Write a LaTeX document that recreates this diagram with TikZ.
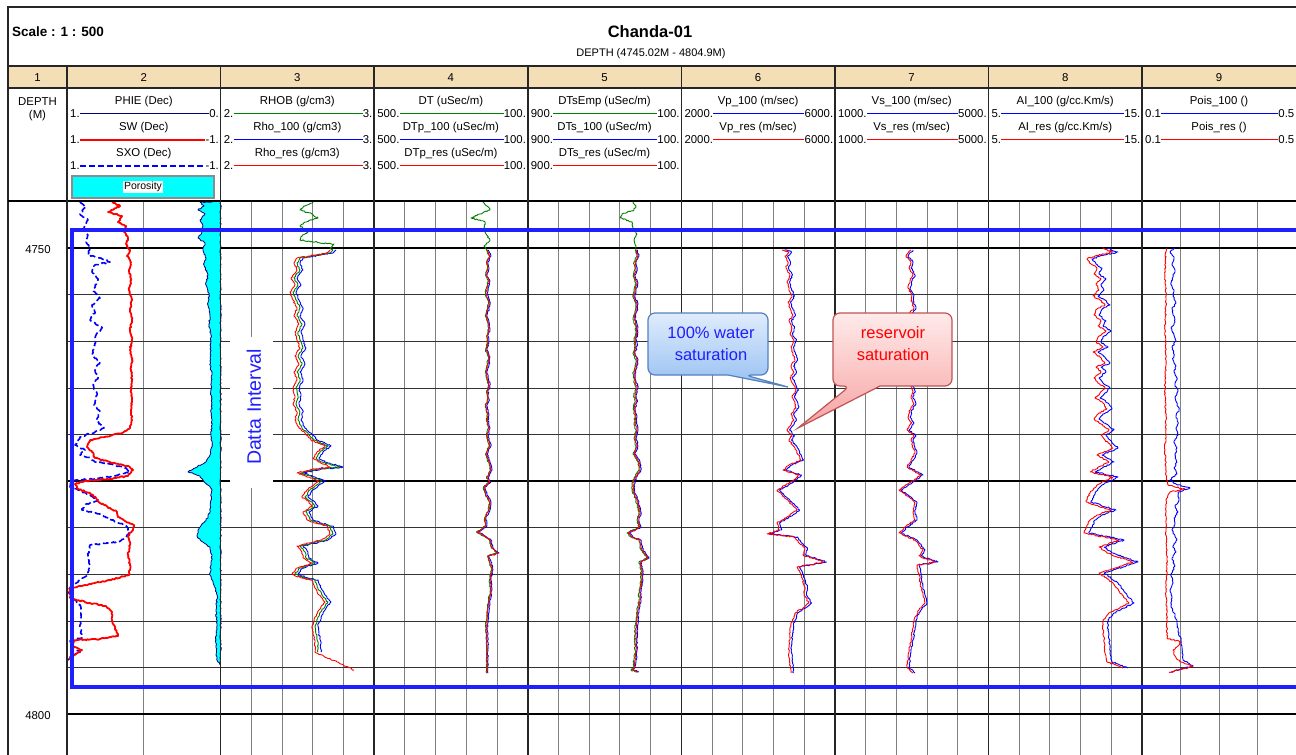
\documentclass[tikz,border=0pt]{standalone}
\usepackage{fontspec}
\setmainfont{Liberation Sans}
\usetikzlibrary{decorations.pathmorphing}
\definecolor{hdr}{RGB}{243,222,181}
\definecolor{navyc}{RGB}{0,0,128}
\definecolor{grn}{RGB}{0,128,0}
\definecolor{calbT}{RGB}{224,236,252}
\definecolor{calbB}{RGB}{150,192,242}
\definecolor{calbD}{RGB}{84,130,190}
\definecolor{calrT}{RGB}{255,234,234}
\definecolor{calrB}{RGB}{246,162,162}
\definecolor{calrD}{RGB}{192,84,84}
\definecolor{porcyan}{RGB}{0,255,255}
\definecolor{ltblue}{RGB}{30,30,255}

\newcommand\hdrcurve[8]{%
  \node[lbl] (#1n) at ({(#2+#3)/2},{#4-11}) {#5};
  \node[lbl,anchor=west] (#1l) at ({#2+3},{#4+0.5}) {#6};
  \node[lbl,anchor=east] (#1r) at ({#3-1.5},{#4+0.5}) {#7};
  \draw[#8] (#1l.east) -- (#1r.west);
}

% ---- curve data (x = pixel column, y = pixel row) ----
\def\swC{(112,202) -- (120,206) -- (108,212) -- (122,216) -- (118,222) -- (126,226) -- (124,232) -- (128,238) -- (126,244) -- (130,250) -- (127,256) -- (131,262) -- (129,270) -- (131,280) -- (129,290) -- (132,300) -- (130,310) -- (132,320) -- (130,330) -- (132,340) -- (130,350) -- (132,360) -- (131,370) -- (132,380) -- (131,390) -- (132,400) -- (131,410) -- (132,420) -- (130,428) -- (122,433) -- (105,437) -- (90,440) -- (87,447) -- (92,452) -- (95,458) -- (110,462) -- (128,466) -- (133,470) -- (128,476) -- (110,479) -- (85,481) -- (75,484) -- (78,489) -- (90,493) -- (96,498) -- (100,503) -- (110,508) -- (117,512) -- (118,517) -- (125,521) -- (134,525) -- (133,530) -- (128,536) -- (130,545) -- (128,555) -- (130,565) -- (129,575) -- (110,580) -- (85,585) -- (70,588) -- (70,598) -- (85,602) -- (105,606) -- (112,612) -- (112,620) -- (115,628) -- (118,636) -- (100,639) -- (75,640) -- (72,645) -- (82,650) -- (76,654) -- (70,657) -- (72,662)}
\def\sxoC{(80,202) -- (86,207) -- (80,214) -- (88,220) -- (84,228) -- (88,235) -- (86,242) -- (90,248) -- (88,255) -- (100,258) -- (110,262) -- (95,265) -- (92,272) -- (98,280) -- (93,290) -- (100,298) -- (92,305) -- (95,312) -- (90,320) -- (102,328) -- (96,335) -- (95,345) -- (92,355) -- (100,362) -- (95,370) -- (98,378) -- (93,385) -- (97,395) -- (94,405) -- (100,412) -- (96,420) -- (104,428) -- (95,432) -- (80,437) -- (75,445) -- (85,450) -- (80,455) -- (90,458) -- (95,462) -- (110,464) -- (125,468) -- (130,472) -- (115,476) -- (90,479) -- (72,481) -- (70,487) -- (78,490) -- (88,494) -- (98,500) -- (85,505) -- (82,510) -- (100,514) -- (112,520) -- (125,525) -- (130,532) -- (125,538) -- (118,542) -- (90,545) -- (88,555) -- (90,565) -- (88,575) -- (80,580) -- (70,588) -- (68,592) -- (75,600) -- (80,605) -- (81,615) -- (80,625) -- (82,638) -- (70,641) -- (72,648) -- (80,652) -- (72,656) -- (68,660)}
% track 3
\def\greenA{(313,202) -- (305,206) -- (300,210) -- (312,214) -- (318,218) -- (305,222) -- (300,226) -- (308,232) -- (302,236) -- (300,240) -- (315,242) -- (334,244) -- (330,248) -- (333,250)}
\def\curveA{(333,250) -- (330,253) -- (300,258) -- (297,263) -- (300,270) -- (294,278) -- (298,285) -- (293,292) -- (296,300) -- (300,308) -- (297,316) -- (302,324) -- (298,332) -- (300,340) -- (303,348) -- (298,356) -- (302,364) -- (297,372) -- (300,380) -- (296,388) -- (298,396) -- (296,404) -- (300,412) -- (298,420) -- (302,428) -- (308,433) -- (314,440) -- (328,446) -- (320,452) -- (316,458) -- (322,462) -- (340,467) -- (318,469) -- (300,473) -- (312,477) -- (322,481) -- (315,486) -- (310,490) -- (305,497) -- (312,502) -- (315,506) -- (306,512) -- (310,520) -- (318,523) -- (330,526) -- (333,534) -- (325,540) -- (300,546) -- (305,552) -- (306,558) -- (315,563) -- (300,568) -- (295,574) -- (305,578) -- (315,580) -- (318,588) -- (322,595) -- (328,602) -- (322,610) -- (318,617) -- (315,626) -- (316,634) -- (318,642) -- (318,652)}
\def\curveAr{(333,250) -- (330,253) -- (300,258) -- (297,263) -- (300,270) -- (294,278) -- (298,285) -- (293,292) -- (296,300) -- (300,308) -- (297,316) -- (302,324) -- (298,332) -- (300,340) -- (303,348) -- (298,356) -- (302,364) -- (297,372) -- (300,380) -- (296,388) -- (298,396) -- (296,404) -- (300,412) -- (298,420) -- (302,428) -- (308,433) -- (314,440) -- (328,446) -- (320,452) -- (316,458) -- (322,462) -- (333,467) -- (318,469) -- (300,473) -- (312,477) -- (322,481) -- (315,486) -- (310,490) -- (305,497) -- (312,502) -- (315,506) -- (306,512) -- (310,520) -- (318,523) -- (330,526) -- (333,534) -- (325,540) -- (300,546) -- (305,552) -- (306,558) -- (315,563) -- (300,568) -- (295,574) -- (305,578) -- (315,580) -- (318,588) -- (322,595) -- (328,602) -- (322,610) -- (318,617) -- (315,626) -- (316,634) -- (318,642) -- (318,652) -- (330,658) -- (340,662) -- (357,670)}
% track 4
\def\greenB{(483,202) -- (487,206) -- (490,210) -- (480,214) -- (471,218) -- (485,222) -- (484,228) -- (486,234) -- (490,240) -- (484,246) -- (487,250)}
\def\curveB{(487,250) -- (490,256) -- (487,262) -- (488,268) -- (486,275) -- (489,281) -- (487,288) -- (486,294) -- (489,302) -- (488,309) -- (486,315) -- (488,322) -- (489,329) -- (487,336) -- (488,343) -- (486,350) -- (489,357) -- (488,364) -- (486,371) -- (487,378) -- (489,385) -- (487,392) -- (488,399) -- (486,406) -- (488,414) -- (487,421) -- (489,428) -- (487,436) -- (490,446) -- (486,454) -- (489,462) -- (491,470) -- (487,478) -- (490,482) -- (484,487) -- (486,495) -- (490,502) -- (489,510) -- (485,518) -- (486,526) -- (477,532) -- (484,536) -- (490,540) -- (492,548) -- (498,553) -- (488,556) -- (490,562) -- (492,570) -- (490,580) -- (491,590) -- (489,600) -- (488,610) -- (487,620) -- (486,630) -- (487,640) -- (487,650) -- (487,660) -- (487,673)}
% track 5
\def\greenD{(633,202) -- (636,206) -- (634,210) -- (622,214) -- (620,218) -- (632,222) -- (633,228) -- (637,234) -- (634,240) -- (636,246) -- (636,250)}
\def\curveD{(636,250) -- (638,256) -- (635,262) -- (636,269) -- (634,276) -- (637,283) -- (635,290) -- (634,297) -- (637,304) -- (636,311) -- (634,318) -- (636,325) -- (637,332) -- (635,339) -- (636,346) -- (634,353) -- (637,360) -- (636,367) -- (634,374) -- (635,381) -- (637,388) -- (635,395) -- (636,402) -- (634,409) -- (636,416) -- (635,423) -- (637,430) -- (635,438) -- (637,446) -- (634,454) -- (639,462) -- (640,470) -- (634,480) -- (633,490) -- (637,500) -- (640,512) -- (638,520) -- (640,527) -- (628,533) -- (632,537) -- (640,540) -- (642,550) -- (648,558) -- (640,562) -- (642,570) -- (642,580) -- (640,590) -- (640,600) -- (638,610) -- (637,620) -- (636,630) -- (636,640) -- (636,650) -- (635,660) -- (634,668) -- (632,670) -- (638,672)}
% track 6
\def\curveE{(783,250) -- (790,252) -- (786,256) -- (789,262) -- (787,268) -- (791,275) -- (788,282) -- (790,289) -- (793,296) -- (789,302) -- (791,308) -- (794,315) -- (790,321) -- (793,328) -- (791,334) -- (795,340) -- (792,347) -- (794,354) -- (796,360) -- (792,366) -- (795,372) -- (791,378) -- (794,384) -- (797,390) -- (793,396) -- (796,402) -- (797,408) -- (792,414) -- (795,420) -- (791,426) -- (788,430) -- (793,436) -- (790,440) -- (796,448) -- (802,460) -- (790,465) -- (784,470) -- (800,475) -- (792,482) -- (778,490) -- (785,497) -- (798,510) -- (790,516) -- (778,523) -- (780,530) -- (768,534) -- (796,537) -- (800,543) -- (806,548) -- (804,555) -- (825,562) -- (798,567) -- (802,575) -- (806,587) -- (805,595) -- (810,603) -- (804,608) -- (796,613) -- (795,618) -- (792,623) -- (791,635) -- (790,645) -- (790,653) -- (791,663) -- (792,673)}
% track 7
\def\curveF{(912,250) -- (907,256) -- (912,262) -- (910,268) -- (914,275) -- (911,281) -- (909,288) -- (913,295) -- (912,301) -- (915,308) -- (910,314) -- (911,321) -- (914,327) -- (912,334) -- (909,340) -- (913,346) -- (915,353) -- (911,360) -- (910,366) -- (913,372) -- (908,379) -- (911,385) -- (914,391) -- (912,398) -- (915,404) -- (911,410) -- (909,417) -- (913,423) -- (908,430) -- (915,436) -- (912,440) -- (916,453) -- (908,467) -- (922,475) -- (912,482) -- (900,490) -- (910,497) -- (916,503) -- (914,512) -- (916,520) -- (906,527) -- (900,533) -- (916,540) -- (924,550) -- (920,556) -- (937,562) -- (918,565) -- (920,575) -- (922,587) -- (924,595) -- (926,603) -- (920,610) -- (916,617) -- (914,628) -- (912,640) -- (910,652) -- (908,667) -- (914,673)}
% track 8
\def\curveG{(1105,248) -- (1116,252) -- (1098,256) -- (1090,259) -- (1094,264) -- (1100,268) -- (1097,274) -- (1104,279) -- (1099,284) -- (1102,290) -- (1096,296) -- (1103,300) -- (1108,305) -- (1100,309) -- (1097,315) -- (1104,321) -- (1101,326) -- (1109,331) -- (1102,336) -- (1099,342) -- (1106,347) -- (1096,352) -- (1103,357) -- (1108,363) -- (1099,367) -- (1104,372) -- (1097,378) -- (1101,383) -- (1108,388) -- (1103,393) -- (1098,398) -- (1106,403) -- (1110,409) -- (1101,414) -- (1097,419) -- (1104,424) -- (1112,430) -- (1104,435) -- (1108,440) -- (1116,448) -- (1100,455) -- (1112,462) -- (1093,472) -- (1116,477) -- (1100,485) -- (1093,493) -- (1089,502) -- (1114,510) -- (1100,515) -- (1093,520) -- (1087,533) -- (1122,540) -- (1102,547) -- (1110,553) -- (1136,562) -- (1102,573) -- (1116,583) -- (1125,595) -- (1132,603) -- (1112,613) -- (1106,620) -- (1106,630) -- (1108,645) -- (1108,653) -- (1110,662) -- (1126,668)}
% track 9
\def\curveH{(1175,248) -- (1170,252) -- (1174,258) -- (1172,264) -- (1175,270) -- (1173,277) -- (1171,283) -- (1174,290) -- (1173,296) -- (1176,303) -- (1172,309) -- (1174,316) -- (1175,322) -- (1171,328) -- (1174,335) -- (1176,341) -- (1172,347) -- (1174,354) -- (1173,360) -- (1176,366) -- (1174,372) -- (1177,378) -- (1175,385) -- (1178,391) -- (1175,397) -- (1177,403) -- (1179,410) -- (1176,416) -- (1178,422) -- (1176,428) -- (1178,435) -- (1174,441) -- (1177,448) -- (1175,455) -- (1177,462) -- (1174,468) -- (1177,474) -- (1170,480) -- (1176,484) -- (1190,488) -- (1178,492) -- (1179,500) -- (1175,506) -- (1178,512) -- (1174,518) -- (1175,523) -- (1172,530) -- (1177,540) -- (1173,546) -- (1176,552) -- (1172,558) -- (1175,566) -- (1171,574) -- (1173,583) -- (1170,590) -- (1172,598) -- (1171,607) -- (1175,615) -- (1177,623) -- (1178,632) -- (1181,640) -- (1182,650) -- (1183,660) -- (1193,666) -- (1185,668) -- (1171,672)}
\def\curveI{(1166,248) -- (1165,270) -- (1166,300) -- (1165,330) -- (1166,360) -- (1165,390) -- (1166,420) -- (1165,450) -- (1166,475) -- (1168,485) -- (1185,489) -- (1170,492) -- (1166,500) -- (1166,530) -- (1167,560) -- (1166,590) -- (1167,620) -- (1167,638) -- (1181,642) -- (1178,646) -- (1173,650) -- (1175,656) -- (1180,662) -- (1193,666) -- (1188,668) -- (1169,672)}

\begin{document}
\begin{tikzpicture}[x=1pt,y=-1pt,
  lbl/.style={font=\fontsize{11.4}{13}\selectfont, inner sep=0pt},
  rs/.style={decorate, decoration={random steps, segment length=1.5pt, amplitude=0.7pt}, line join=round},
  crv/.style={line width=0.9pt, rs},
  gv/.style={draw=black!50, line width=1pt},
  gh/.style={draw=black!80, line width=0.8pt},
  tk/.style={draw=black, line width=1.8pt},
  frm/.style={draw=black!85, line width=1.6pt},
]
\pgfmathsetseed{11}
\useasboundingbox (0,0) rectangle (1296,755);
\clip (0,0) rectangle (1296,755);
\fill[white] (0,0) rectangle (1296,755);

% header band
\fill[hdr] (8,66) rectangle (1296,88);

% ---- grid (data area) ----
\draw[gv] (143.8,202) -- (143.8,755);
\foreach \k in {0,...,5} {
  \foreach \j in {1,...,4} {
    \draw[gv] ({220.6+\k*153.57+\j*30.714},202) -- ({220.6+\k*153.57+\j*30.714},755);
  }
}
\foreach \j in {1,2,3} { \draw[gv] ({1142+\j*38.5},202) -- ({1142+\j*38.5},755); }
\foreach \k in {2,3,4,5,7,8,9,10} { \draw[gh] (67,{201.4+\k*46.63}) -- (1296,{201.4+\k*46.63}); }
\foreach \k in {1,6,11} { \draw[tk] (67,{201.4+\k*46.63}) -- (1296,{201.4+\k*46.63}); }

% ---- track 2 curves ----
\draw[navyc, line width=0.8pt, fill=porcyan, rs] (220.6,201.5) -- (200,202) -- (204,206) -- (198,210) -- (205,214) -- (200,220) -- (203,226) -- (202,232) -- (198,238) -- (205,243) -- (203,250) -- (206,258) -- (204,265) -- (208,275) -- (206,285) -- (209,295) -- (208,305) -- (210,315) -- (209,325) -- (211,335) -- (210,345) -- (211,355) -- (210,365) -- (212,375) -- (211,385) -- (211,395) -- (212,405) -- (211,415) -- (212,425) -- (211,435) -- (212,445) -- (210,455) -- (206,462) -- (195,468) -- (188,472) -- (200,476) -- (203,480) -- (208,485) -- (212,490) -- (211,500) -- (210,510) -- (208,518) -- (202,524) -- (198,530) -- (197,536) -- (201,541) -- (210,547) -- (212,555) -- (211,565) -- (210,575) -- (214,585) -- (217,595) -- (216,610) -- (217,625) -- (216,640) -- (216,655) -- (218,662) -- (220.6,665) -- cycle;
\draw[blue, line width=1.6pt, dash pattern=on 6pt off 3pt, rs] \sxoC;
\draw[red, line width=1.8pt, rs] \swC;

% ---- track 3 ----
\draw[grn, crv] \greenA;
\draw[blue, crv, xshift=3pt] \curveA;
\draw[grn, crv] \curveA;
\draw[red, crv, xshift=-3pt] \curveAr;
% ---- track 4 ----
\draw[grn, crv] \greenB;
\draw[blue, crv, xshift=1pt] \curveB;
\draw[grn, crv, xshift=-0.5pt] \curveB;
\draw[red, crv] \curveB;
% ---- track 5 ----
\draw[grn, crv] \greenD;
\draw[blue, crv, xshift=1pt] \curveD;
\draw[grn, crv, xshift=-1pt] \curveD;
\draw[red, crv] \curveD;
% ---- track 6 ----
\draw[blue, crv, xshift=1.5pt] \curveE;
\draw[red, crv, xshift=-1pt] \curveE;
% ---- track 7 ----
\draw[blue, crv, xshift=1pt] \curveF;
\draw[red, crv, xshift=-1pt] \curveF;
% ---- track 8 ----
\draw[blue, crv, xshift=2pt] \curveG;
\draw[red, crv, xshift=-3pt] \curveG;
% ---- track 9 ----
\draw[blue, crv] \curveH;
\draw[red, crv] \curveI;

% ---- frame and track separators ----
\draw[frm] (8,755) -- (8,7) -- (1296,7);
\draw[frm] (8,66) -- (1296,66);
\draw[frm] (8,88) -- (1296,88);
\draw[draw=black, line width=2.6pt] (8,201) -- (1296,201);
\foreach \x in {67,220.6,374.1,527.7,681.3,834.9,988.4,1142} {
  \draw[frm] (\x,66) -- (\x,755);
}

% ---- data interval box ----
\draw[ltblue, line width=3.8pt] (72,230) -- (1310,230) -- (1310,687) -- (72,687) -- cycle;
\fill[white] (230,337) rectangle (273,488);
\node[rotate=90, text=ltblue, font=\fontsize{19.5}{22}\selectfont, inner sep=0pt] (dint) at (254,407) {Datta Interval};

% ---- title ----
\node[anchor=west, font=\bfseries\fontsize{13.5}{15}\selectfont, inner sep=0pt] (scale) at (12,32) {Scale : 1 : 500};
\node[font=\bfseries\fontsize{16.5}{18}\selectfont, inner sep=0pt] (title) at (650,32) {Chanda-01};
\node[font=\fontsize{11}{12}\selectfont, inner sep=0pt] (range) at (651,53.5) {DEPTH (4745.02M - 4804.9M)};

% ---- track numbers ----
\node[lbl] (n1) at (37.5,77.5) {1};
\node[lbl] (n2) at (143.8,77.5) {2};
\node[lbl] (n3) at (297.3,77.5) {3};
\node[lbl] (n4) at (450.9,77.5) {4};
\node[lbl] (n5) at (604.5,77.5) {5};
\node[lbl] (n6) at (758.1,77.5) {6};
\node[lbl] (n7) at (911.6,77.5) {7};
\node[lbl] (n8) at (1065.2,77.5) {8};
\node[lbl] (n9) at (1219,77.5) {9};

% ---- track headers ----
\node[lbl, align=center] (dep) at (37.5,109) {DEPTH\\(M)};
\hdrcurve{pa}{67}{220.6}{113}{PHIE (Dec)}{1.}{0.}{navyc, line width=1pt}
\hdrcurve{pb}{67}{220.6}{139}{SW (Dec)}{1.}{-1.}{red, line width=2pt}
\hdrcurve{pc}{67}{220.6}{165}{SXO (Dec)}{1.}{-1.}{blue, line width=2pt, dash pattern=on 6pt off 3pt}
\node[draw=black!45, line width=1.5pt, fill=porcyan, minimum width=142pt, minimum height=22pt, inner sep=0pt, font=\fontsize{10.5}{12}\selectfont] (por) at (143,187) {\setlength{\fboxsep}{1pt}\colorbox{white}{Porosity}};
\hdrcurve{ra}{220.6}{374.1}{113}{RHOB (g/cm3)}{2.}{3.}{grn}
\hdrcurve{rb}{220.6}{374.1}{139}{Rho\_100 (g/cm3)}{2.}{3.}{blue}
\hdrcurve{rc}{220.6}{374.1}{165}{Rho\_res (g/cm3)}{2.}{3.}{red}
\hdrcurve{da}{374.1}{527.7}{113}{DT (uSec/m)}{500.}{100.}{grn}
\hdrcurve{db}{374.1}{527.7}{139}{DTp\_100 (uSec/m)}{500.}{100.}{blue}
\hdrcurve{dc}{374.1}{527.7}{165}{DTp\_res (uSec/m)}{500.}{100.}{red}
\hdrcurve{sa}{527.7}{681.3}{113}{DTsEmp (uSec/m)}{900.}{100.}{grn}
\hdrcurve{sb}{527.7}{681.3}{139}{DTs\_100 (uSec/m)}{900.}{100.}{blue}
\hdrcurve{sc}{527.7}{681.3}{165}{DTs\_res (uSec/m)}{900.}{100.}{red}
\hdrcurve{va}{681.3}{834.9}{113}{Vp\_100 (m/sec)}{2000.}{6000.}{blue}
\hdrcurve{vb}{681.3}{834.9}{139}{Vp\_res (m/sec)}{2000.}{6000.}{red}
\hdrcurve{wa}{834.9}{988.4}{113}{Vs\_100 (m/sec)}{1000.}{5000.}{blue}
\hdrcurve{wb}{834.9}{988.4}{139}{Vs\_res (m/sec)}{1000.}{5000.}{red}
\hdrcurve{aa}{988.4}{1142}{113}{AI\_100 (g/cc.Km/s)}{5.}{15.}{blue}
\hdrcurve{ab}{988.4}{1142}{139}{AI\_res (g/cc.Km/s)}{5.}{15.}{red}
\hdrcurve{qa}{1142}{1296}{113}{Pois\_100 ()}{0.1}{0.5}{blue}
\hdrcurve{qb}{1142}{1296}{139}{Pois\_res ()}{0.1}{0.5}{red}

% ---- depth labels ----
\node[lbl] (d4750) at (38,250) {4750};
\node[lbl] (d4800) at (38,716) {4800};

% ---- callouts ----
\coordinate (tipw) at (788,387);
\coordinate (tipr) at (798,428);
\draw[calbD, line width=1.2pt, top color=calbT, bottom color=calbB]
  (705,375) [rounded corners=7pt] -- (648,375) -- (648,313) -- (768,313) -- (768,375) -- (745,375) [sharp corners] -- (tipw) -- (728,375) -- cycle;
\node[text=ltblue, align=center, font=\fontsize{16.5}{22}\selectfont, inner sep=0pt] (wat) at (711,344) {100\% water\\saturation};
\draw[calrD, line width=1.2pt, top color=calrT, bottom color=calrB]
  (910,386) [rounded corners=7pt] -- (952,386) -- (952,313) -- (833,313) -- (833,386) -- (850,386) [sharp corners] -- (tipr) -- (880,386) -- cycle;
\node[text=red, align=center, font=\fontsize{16.5}{22}\selectfont, inner sep=0pt] (res) at (893,344) {reservoir\\saturation};
\end{tikzpicture}
\end{document}
